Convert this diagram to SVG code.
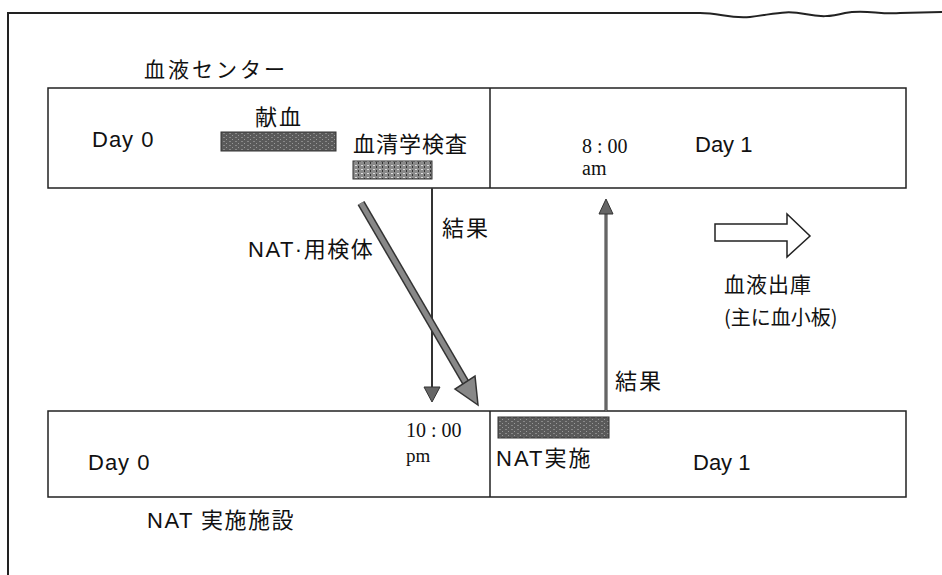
<svg xmlns="http://www.w3.org/2000/svg" width="942" height="575" viewBox="0 0 942 575">
<style>
.box{fill:none;stroke:#222;stroke-width:1.5}
.frame{fill:none;stroke:#222;stroke-width:2}
.jp{font-family:"Noto Sans CJK JP","Liberation Sans",sans-serif;fill:#111}
.lat{font-family:"Liberation Sans","Noto Sans CJK JP",sans-serif;fill:#111}
.ser{font-family:"Liberation Serif",serif;fill:#111}
.bar{stroke:#333;stroke-width:1}
.conn{stroke:#333;stroke-width:2;fill:none}
.head{fill:#666;stroke:#333;stroke-width:1}
</style>
<defs>
<pattern id="noise" width="6" height="4" patternUnits="userSpaceOnUse">
<rect width="6" height="4" fill="#5a5a5a"/>
<rect x="1" y="1" width="2" height="1" fill="#888"/>
<rect x="4" y="3" width="1" height="1" fill="#999"/>
</pattern>
<pattern id="noise2" width="6" height="4" patternUnits="userSpaceOnUse">
<rect width="6" height="4" fill="#8a8a8a"/>
<rect x="1" y="1" width="2" height="1" fill="#ddd"/>
<rect x="4" y="2" width="1" height="2" fill="#333"/>
</pattern>
</defs>
<g id="frame">
<path class="frame" d="M8,575 L8,13 L700,13 C720,13 730,19 750,17 C775,14 785,10 805,14 C820,17 830,17 845,13 C865,9 880,15 900,13 L942,12"/>
</g>
<g id="blood-center">
<text class="jp" x="144" y="77" font-size="21" letter-spacing="3">血液センター</text>
<path class="box" d="M48,88 L906,88 L906,188 L48,188 Z M490,88 L490,188"/>
<text class="lat" x="92" y="147" font-size="22" letter-spacing="1">Day 0</text>
<text class="jp" x="255" y="125" font-size="22" letter-spacing="2">献血</text>
<rect class="bar" x="221" y="132" width="115" height="19" fill="url(#noise)"/>
<text class="jp" x="353" y="152" font-size="22" letter-spacing="1">血清学検査</text>
<rect class="bar" x="353" y="161" width="79" height="18" fill="url(#noise2)"/>
<text class="ser" x="582" y="153" font-size="20">8 : 00</text>
<text class="ser" x="582" y="175" font-size="20">am</text>
<text class="lat" x="695" y="152" font-size="22">Day 1</text>
</g>
<g id="nat-facility">
<path class="box" d="M48,411 L906,411 L906,497 L48,497 Z M490,411 L490,497"/>
<text class="lat" x="88" y="470" font-size="22" letter-spacing="1">Day 0</text>
<text class="ser" x="406" y="437" font-size="20">10 : 00</text>
<text class="ser" x="406" y="462" font-size="19">pm</text>
<rect class="bar" x="498" y="417" width="111" height="21" fill="url(#noise)"/>
<text class="lat" x="496" y="466" font-size="22" letter-spacing="2">NAT<tspan class="jp">実施</tspan></text>
<text class="lat" x="693" y="470" font-size="22">Day 1</text>
<text class="lat" x="147" y="528" font-size="22" letter-spacing="1.5">NAT <tspan class="jp">実施施設</tspan></text>
</g>
<g id="release">
<path fill="#fff" stroke="#222" stroke-width="1.5" d="M715,224 L787,224 L787,214 L810,236 L787,257 L787,241 L715,241 Z"/>
<text class="jp" x="724" y="292" font-size="21" letter-spacing="1">血液出庫</text>
<text class="jp" x="724" y="325" font-size="20">(主に血小板)</text>
</g>
<g id="connectors">
<line class="conn" x1="432" y1="188" x2="432" y2="388"/>
<polygon class="head" points="424,387 440,387 432,402"/>
<text class="jp" x="442" y="236" font-size="22" letter-spacing="2">結果</text>
<line x1="361" y1="203" x2="466" y2="383" stroke="#333" stroke-width="8"/>
<line x1="361" y1="203" x2="466" y2="383" stroke="#888" stroke-width="5"/>
<polygon points="478,405 475,376 455,389" fill="#888" stroke="#333" stroke-width="1.5"/>
<text class="lat" x="248" y="257" font-size="22" letter-spacing="1.5">NAT·<tspan class="jp">用検体</tspan></text>
<line x1="606" y1="411" x2="606" y2="212" stroke="#333" stroke-width="3"/>
<line x1="606" y1="411" x2="606" y2="212" stroke="#999" stroke-width="1"/>
<polygon class="head" points="599,214 613,214 606,199"/>
<text class="jp" x="615" y="389" font-size="22" letter-spacing="2">結果</text>
</g>
</svg>
